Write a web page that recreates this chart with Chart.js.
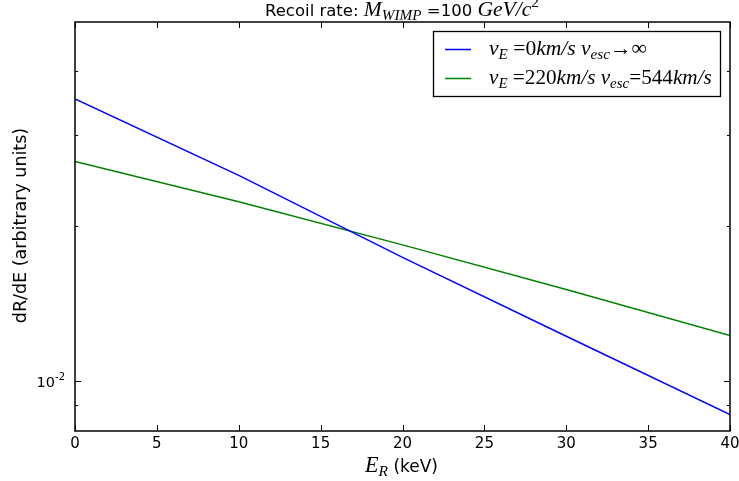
<!DOCTYPE html>
<html>
<head>
<meta charset="utf-8">
<script src="https://cdn.jsdelivr.net/npm/chart.js@4/dist/chart.umd.min.js"></script>
<style>
html,body{margin:0;padding:0;background:#fff;}
#wrap{width:739px;height:481px;position:relative;}
</style>
</head>
<body>
<div id="wrap"><canvas id="c" width="739" height="481"></canvas></div>
<script>
// ---- data ----
const energies = [0, 10, 20, 30, 40];                            // E_R (keV)
const rateNoEscape = [0.0353, 0.0251, 0.0174, 0.01223, 0.00862]; // v_E=0, v_esc->inf
const rateEscape   = [0.0267, 0.0223, 0.0184, 0.01507, 0.01227]; // v_E=220, v_esc=544
const xTickValues = [0, 5, 10, 15, 20, 25, 30, 35, 40];
const yMajorTicks = [0.01];
const yMinorTicks = [0.009, 0.02, 0.03, 0.04];
const yRange = [0.00801, 0.0498];
const xRange = [0, 40];

const SANS = '"DejaVu Sans", sans-serif';
const SERIF = '"Liberation Serif", "DejaVu Serif", serif';

// segs: [text, style('sans'|'serif'|'iserif'), size, dy]
function fontOf(s, k) {
  const size = s[1] === 'sans' ? s[2] : s[2] * k;
  if (s[1] === 'sans') return size + 'px ' + SANS;
  if (s[1] === 'iserif') return 'italic ' + size + 'px ' + SERIF;
  return size + 'px ' + SERIF;
}
function rich(ctx, segs, x, y, align, target) {
  let sansW = 0, serifW = 0;
  segs.forEach(s => { ctx.font = fontOf(s, 1); const w = ctx.measureText(s[0]).width; if (s[1] === 'sans') sansW += w; else serifW += w; });
  let k = 1;
  if (target && serifW > 0) k = (target - sansW) / serifW;
  const w = sansW + serifW * k;
  let cx = align === 'center' ? x - w / 2 : (align === 'right' ? x - w : x);
  ctx.textBaseline = 'alphabetic';
  ctx.textAlign = 'left';
  segs.forEach(s => {
    ctx.font = fontOf(s, k);
    ctx.fillText(s[0], cx, y + (s[3] || 0) * (s[1] === 'sans' ? 1 : k));
    cx += ctx.measureText(s[0]).width;
  });
  return w;
}

const decor = {
  id: 'decor',
  afterDraw(chart) {
    const ctx = chart.ctx;
    const a = chart.chartArea;
    const xs = chart.scales.x, ys = chart.scales.y;
    ctx.save();
    ctx.fillStyle = '#000';
    ctx.strokeStyle = '#000';
    // frame
    ctx.lineWidth = 1.5;
    ctx.strokeRect(a.left, a.top, a.right - a.left, a.bottom - a.top);
    // ticks (inward, both sides)
    ctx.lineWidth = 1;
    ctx.beginPath();
    xTickValues.forEach(v => {
      const px = Math.round(xs.getPixelForValue(v)) + 0.5;
      ctx.moveTo(px, a.bottom); ctx.lineTo(px, a.bottom - 6);
      ctx.moveTo(px, a.top); ctx.lineTo(px, a.top + 6);
    });
    yMajorTicks.forEach(v => {
      const py = Math.round(ys.getPixelForValue(v)) + 0.5;
      ctx.moveTo(a.left, py); ctx.lineTo(a.left + 6, py);
      ctx.moveTo(a.right, py); ctx.lineTo(a.right - 6, py);
    });
    yMinorTicks.forEach(v => {
      const py = Math.round(ys.getPixelForValue(v)) + 0.5;
      ctx.moveTo(a.left, py); ctx.lineTo(a.left + 3, py);
      ctx.moveTo(a.right, py); ctx.lineTo(a.right - 3, py);
    });
    ctx.stroke();
    // y major tick label 10^-2
    yMajorTicks.forEach(v => {
      const py = ys.getPixelForValue(v);
      const exp = Math.round(Math.log10(v));
      rich(ctx, [['10', 'sans', 14.5, 0], [String(exp), 'sans', 10, -7]], a.left - 10, py + 6, 'right');
    });
    // title
    rich(ctx, [
      ['Recoil rate: ', 'sans', 16.5, 0],
      ['M', 'iserif', 17, 0],
      ['WIMP', 'iserif', 12, 3],
      [' ', 'iserif', 17, 0],
      ['=100 ', 'sans', 16.5, 0],
      ['GeV/c', 'iserif', 17, 0],
      ['2', 'serif', 12, -7]
    ], (a.left + a.right) / 2 - 0.5, 16, 'center', 274);
    // x axis title
    rich(ctx, [
      ['E', 'iserif', 17, 0],
      ['R', 'iserif', 12, 3],
      [' (keV)', 'sans', 17, 0]
    ], 401.5, 472, 'center', 73);
    // y axis title
    ctx.save();
    ctx.translate(26, (a.top + a.bottom) / 2 - 1);
    ctx.rotate(-Math.PI / 2);
    ctx.font = '17.5px ' + SANS;
    ctx.textAlign = 'center';
    ctx.textBaseline = 'alphabetic';
    ctx.fillText('dR/dE (arbitrary units)', 0, 0);
    ctx.restore();
    // legend
    const lx = 433.5, ly = 31.5, lw = 287, lh = 65;
    ctx.fillStyle = '#fff';
    ctx.fillRect(lx, ly, lw, lh);
    ctx.lineWidth = 1.3;
    ctx.strokeStyle = '#000';
    ctx.strokeRect(lx, ly, lw, lh);
    const items = chart.data.datasets;
    const rows = [
      [['v', 'iserif', 17, 0], ['E', 'iserif', 12, 3], [' =0', 'serif', 17, 0], ['km/s', 'iserif', 17, 0], [' v', 'iserif', 17, 0], ['esc', 'iserif', 12, 3], ['\u2192\u221E', 'serif', 17, 0]],
      [['v', 'iserif', 17, 0], ['E', 'iserif', 12, 3], [' =220', 'serif', 17, 0], ['km/s', 'iserif', 17, 0], [' v', 'iserif', 17, 0], ['esc', 'iserif', 12, 3], ['=544', 'serif', 17, 0], ['km/s', 'iserif', 17, 0]]
    ];
    const rowWidths = [158, 223];
    const rowY = [49, 78];
    items.forEach((ds, i) => {
      ctx.strokeStyle = ds.borderColor;
      ctx.lineWidth = 1.5;
      ctx.beginPath();
      ctx.moveTo(445, rowY[i] + 0.5); ctx.lineTo(471, rowY[i] + 0.5);
      ctx.stroke();
      ctx.fillStyle = '#000';
      rich(ctx, rows[i], 489, rowY[i] + 6, 'left', rowWidths[i]);
    });
    ctx.restore();
  }
};

const toPts = (xs, ys) => xs.map((x, i) => ({ x: x, y: ys[i] }));

new Chart(document.getElementById('c'), {
  type: 'line',
  data: {
    datasets: [
      { label: 'v_E=0km/s v_esc→∞', data: toPts(energies, rateNoEscape), borderColor: '#0000ff', borderWidth: 1.5, pointRadius: 0, fill: false, tension: 0 },
      { label: 'v_E=220km/s v_esc=544km/s', data: toPts(energies, rateEscape), borderColor: '#008000', borderWidth: 1.5, pointRadius: 0, fill: false, tension: 0 }
    ]
  },
  options: {
    responsive: false,
    animation: false,
    events: [],
    layout: { padding: { left: 0, right: 9, top: 22, bottom: 0 } },
    plugins: { legend: { display: false }, title: { display: false }, tooltip: { enabled: false } },
    scales: {
      x: {
        type: 'linear', min: xRange[0], max: xRange[1],
        afterFit: s => { s.height = 50; s.paddingLeft = 0; s.paddingRight = 0; },
        afterBuildTicks: s => { s.ticks = xTickValues.map(v => ({ value: v })); },
        grid: { display: false, drawTicks: false },
        border: { display: false },
        ticks: { color: '#000', font: { family: 'DejaVu Sans', size: 15 }, padding: 4, maxRotation: 0 }
      },
      y: {
        type: 'logarithmic', min: yRange[0], max: yRange[1],
        afterFit: s => { s.width = 75; s.paddingTop = 0; s.paddingBottom = 0; },
        grid: { display: false, drawTicks: false },
        border: { display: false },
        ticks: { display: false }
      }
    }
  },
  plugins: [decor]
});
</script>
</body>
</html>
